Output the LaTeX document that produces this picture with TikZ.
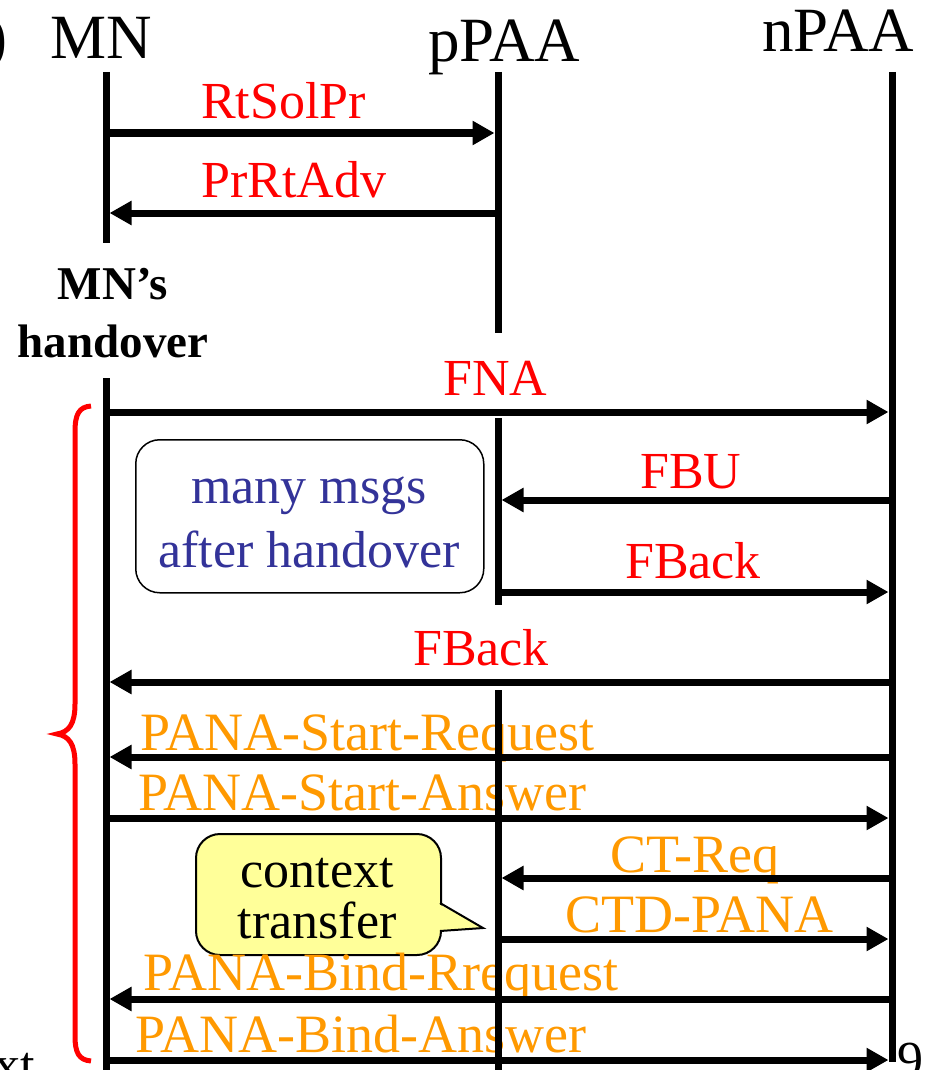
\documentclass[tikz,border=0pt]{standalone}
\usepackage{fontspec}
\setmainfont{Liberation Serif}
\usetikzlibrary{arrows.meta}
\definecolor{msgred}{HTML}{FF0000}
\definecolor{msgorange}{HTML}{FF9900}
\definecolor{noteblue}{HTML}{333399}
\definecolor{calloutyellow}{HTML}{FFFF99}
\begin{document}
\begin{tikzpicture}[x=1pt,y=-1pt,
  life/.style={line width=7pt},
  msg/.style={line width=7pt,-{Triangle[length=22pt,width=23pt]},shorten >=3.5pt},
  hdr/.style={inner sep=0pt,anchor=base west,font=\fontsize{63}{70}\selectfont},
  redlbl/.style={inner sep=0pt,anchor=base west,text=msgred,font=\fontsize{52}{60}\selectfont},
  orglbl/.style={inner sep=0pt,anchor=base west,text=msgorange,font=\fontsize{54}{60}\selectfont},
  boldlbl/.style={inner sep=0pt,anchor=base,font=\fontsize{47}{56}\selectfont\bfseries},
  bluelbl/.style={inner sep=0pt,anchor=base,text=noteblue,font=\fontsize{52}{60}\selectfont},
  blklbl/.style={inner sep=0pt,anchor=base,font=\fontsize{52}{60}\selectfont},
  notebox/.style={draw,line width=1.5pt,rounded corners=24pt,inner sep=0pt},
  calloutbox/.style={draw,fill=calloutyellow,line width=2pt,rounded corners=24pt,inner sep=0pt},
  bracestyle/.style={draw=msgred,line width=5pt}]
\useasboundingbox (0,0) rectangle (934,1070);

% headers
\node[hdr] (cut) at (-14,59) {)};
\node[hdr] (mnH) at (50,59) {MN};
\node[hdr] (ppH) at (428,62) {pPAA};
\node[hdr] (npH) at (762,52) {nPAA};

% handover label
\node[boldlbl] (hoA) at (113,299) {MN’s};
\node[boldlbl] (hoB) at (113,357) {handover};

% note box
\node[notebox,minimum width=348pt,minimum height=153pt,anchor=north west] (note) at (135,439) {};
\node[bluelbl] (noteA) at (309,503) {many msgs};
\node[bluelbl] (noteB) at (309,567) {after handover};

% callout
\node[calloutbox,minimum width=245pt,minimum height=121pt,anchor=north west] (ctbox) at (195,833) {};
\coordinate (ptrA) at (440,903);
\coordinate (ptrTip) at (483,928);
\coordinate (ptrB) at (440,931);
\fill[calloutyellow] ([xshift=-3pt]ptrA) -- (ptrTip) -- ([xshift=-3pt]ptrB) -- cycle;
\draw[line width=2pt] (ptrA) -- (ptrTip) -- (ptrB);
\node[blklbl] (ctA) at (317,887) {context};
\node[blklbl] (ctB) at (317,938) {transfer};

% message labels
\node[redlbl] (l1) at (201,119) {RtSolPr};
\node[redlbl] (l2) at (201,197) {PrRtAdv};
\node[redlbl] (l3) at (443,395) {FNA};
\node[redlbl] (l4) at (640,488) {FBU};
\node[redlbl] (l5) at (625,578) {FBack};
\node[redlbl] (l6) at (413,665) {FBack};
\node[orglbl] (l7) at (140,750) {PANA-Start-Request};
\node[orglbl] (l8) at (138,810) {PANA-Start-Answer};
\node[orglbl] (l9) at (610,872) {CT-Req};
\node[orglbl] (l10) at (565,932) {CTD-PANA};
\node[orglbl] (l11) at (143,990) {PANA-Bind-Rrequest};
\node[orglbl] (l12) at (135,1052) {PANA-Bind-Answer};

% page fragments
\node[blklbl,anchor=base west] (pg) at (897,1077) {9};
\node[blklbl,anchor=base east] (nx) at (35,1082) {xt};

% lifelines
\coordinate (mnT) at (106,72);
\coordinate (mnU) at (106,243);
\coordinate (mnL) at (106,378);
\coordinate (mnE) at (106,1072);
\coordinate (ppT) at (498,72);
\coordinate (ppU) at (498,333);
\coordinate (ppM) at (498,418);
\coordinate (ppN) at (498,605);
\coordinate (ppL) at (498,690);
\coordinate (ppE) at (498,1072);
\coordinate (npT) at (892,72);
\coordinate (npE) at (892,1062);
\draw[life] (mnT) -- (mnU);
\draw[life] (mnL) -- (mnE);
\draw[life] (ppT) -- (ppU);
\draw[life] (ppM) -- (ppN);
\draw[life] (ppL) -- (ppE);
\draw[life] (npT) -- (npE);

% message anchor points
\foreach \n/\y in {1/133,2/213,3/412,4/500,5/592,6/682,7/757,8/818,9/878,10/939,11/999,12/1060}{
  \coordinate (mn\n) at (106,\y);
  \coordinate (pp\n) at (498,\y);
  \coordinate (np\n) at (892,\y);
}

% messages
\draw[msg] (mn1) -- (pp1);
\draw[msg] (pp2) -- (mn2);
\draw[msg] (mn3) -- (np3);
\draw[msg] (np4) -- (pp4);
\draw[msg] (pp5) -- (np5);
\draw[msg] (np6) -- (mn6);
\draw[msg] (np7) -- (mn7);
\draw[msg] (mn8) -- (np8);
\draw[msg] (np9) -- (pp9);
\draw[msg] (pp10) -- (np10);
\draw[msg] (np11) -- (mn11);
\draw[msg] (mn12) -- (np12);

% brace
\draw[bracestyle] (91,406) .. controls (79,407) and (75,414) .. (75,432)
  -- (75,704) .. controls (75,724) and (69,732) .. (57,734)
  .. controls (69,736) and (75,744) .. (75,764)
  -- (75,1036) .. controls (75,1053) and (79,1060) .. (91,1061);
\end{tikzpicture}
\end{document}
